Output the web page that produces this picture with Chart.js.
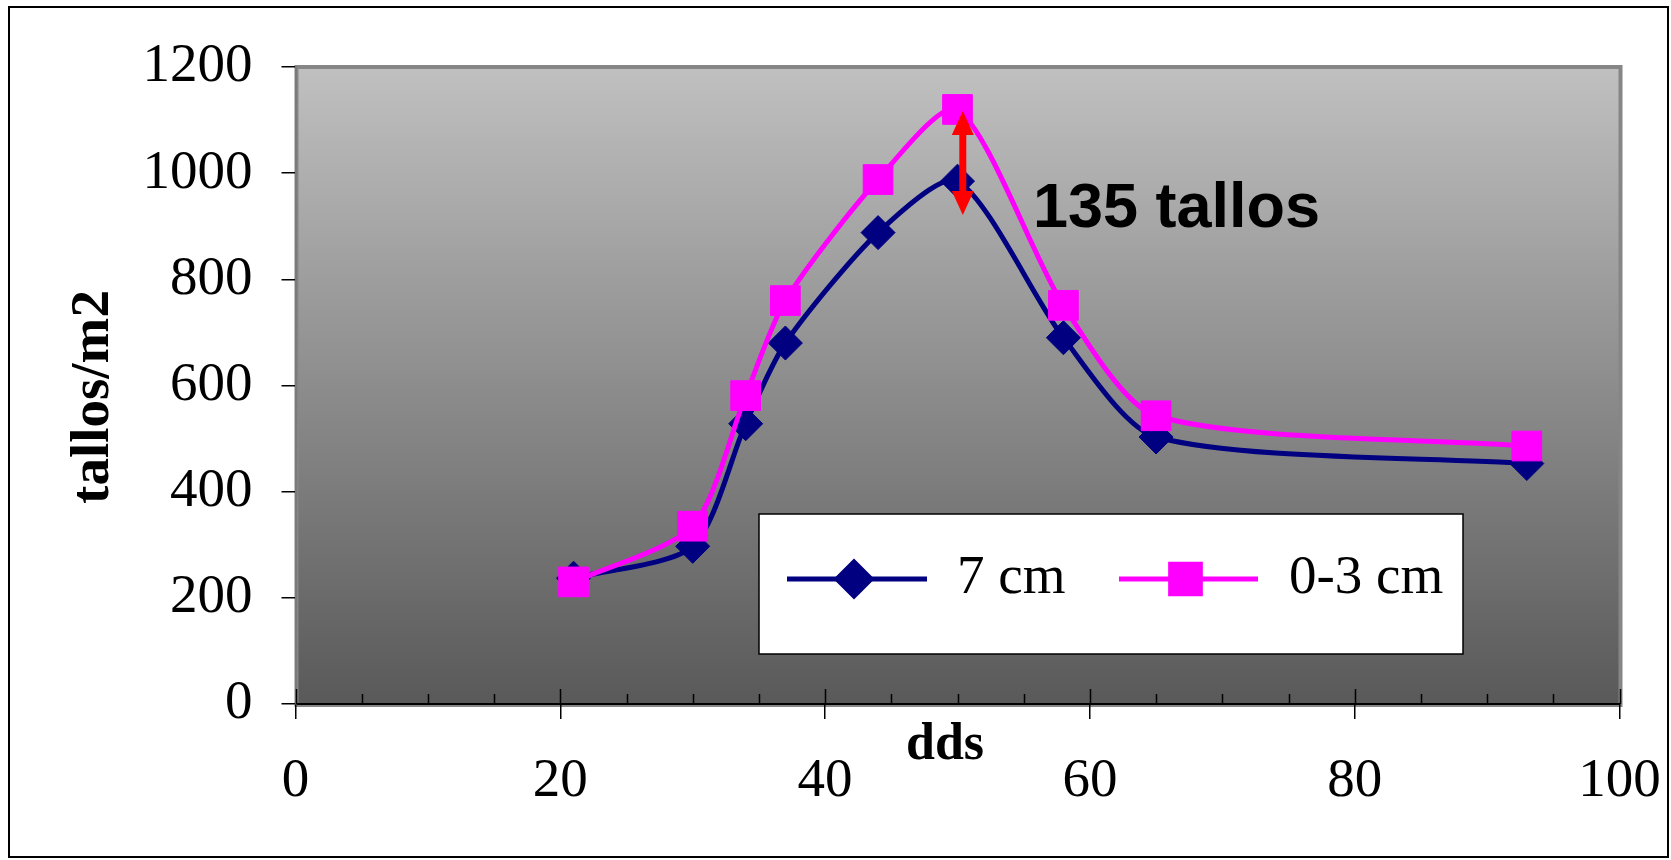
<!DOCTYPE html>
<html>
<head>
<meta charset="utf-8">
<script src="https://cdn.jsdelivr.net/npm/chart.js@4.4.0/dist/chart.umd.min.js"></script>
<style>
    html, body { margin: 0; padding: 0; background: #fff; }
    #wrap { width: 1671px; height: 860px; position: relative; }
</style>
</head>
<body>
<div id="wrap"><canvas id="tallosChart"></canvas></div>
<script>
        // Datos
        const dds = [21, 30, 34, 37, 44, 50, 58, 65, 93];
        const tallos7cm = [237, 297, 528, 680, 888, 985, 690, 503, 453];
        const tallos03cm = [230, 335, 581, 760, 988, 1120, 751, 543, 486];
        const seriesLabels = ['7 cm', '0-3 cm'];
        const xTicks = [0, 20, 40, 60, 80, 100];
        const yTicks = [0, 200, 400, 600, 800, 1000, 1200];

        // Flecha de diferencia en el pico
        const arrowX = 50.4;
        const arrowTop = 1117;
        const arrowBottom = 921;
        const noteText = '135 tallos';

        const serif = "'Liberation Serif', 'Times New Roman', serif";
        const sans = "'Liberation Sans', Arial, sans-serif";

        const toPoints = (ys) => dds.map((x, i) => ({ x: x, y: ys[i] }));

        // Fondo del area de grafico
        const backgroundPlugin = {
            id: 'background',
            beforeDraw(chart) {
                const { ctx, chartArea: a } = chart;
                ctx.save();
                ctx.fillStyle = '#fff';
                ctx.fillRect(0, 0, chart.width, chart.height);
                const g = ctx.createLinearGradient(0, a.top, 0, a.bottom);
                g.addColorStop(0, '#c0c0c0');
                g.addColorStop(1, '#595959');
                ctx.fillStyle = g;
                ctx.fillRect(a.left, a.top, a.right - a.left, a.bottom - a.top);
                ctx.strokeStyle = '#868686';
                ctx.lineWidth = 4;
                ctx.strokeRect(a.left + 1, a.top, a.right - a.left, a.bottom - a.top + 1);
                ctx.restore();
            }
        };

        // Marcas, flecha, texto, leyenda y titulos
        const overlayPlugin = {
            id: 'overlay',
            afterDraw(chart) {
                const { ctx, chartArea: a } = chart;
                const xs = chart.scales.x;
                const ys = chart.scales.y;
                ctx.save();

                // marcas del eje x (interiores)
                ctx.strokeStyle = '#000';
                ctx.lineWidth = 1.5;
                for (let v = 0; v <= 100; v += 5) {
                    const px = Math.round(xs.getPixelForValue(v)) + 0.5;
                    const len = v % 20 === 0 ? 15 : 10;
                    ctx.beginPath();
                    ctx.moveTo(px, a.bottom);
                    ctx.lineTo(px, a.bottom - len);
                    ctx.stroke();
                }

                // flecha roja
                const ax = xs.getPixelForValue(arrowX);
                const y1 = ys.getPixelForValue(arrowTop);
                const y2 = ys.getPixelForValue(arrowBottom);
                ctx.strokeStyle = '#ff0000';
                ctx.fillStyle = '#ff0000';
                ctx.lineWidth = 7;
                ctx.beginPath();
                ctx.moveTo(ax, y1 + 18);
                ctx.lineTo(ax, y2 - 18);
                ctx.stroke();
                ctx.beginPath();
                ctx.moveTo(ax, y1);
                ctx.lineTo(ax - 11, y1 + 24);
                ctx.lineTo(ax + 11, y1 + 24);
                ctx.closePath();
                ctx.fill();
                ctx.beginPath();
                ctx.moveTo(ax, y2);
                ctx.lineTo(ax - 11, y2 - 24);
                ctx.lineTo(ax + 11, y2 - 24);
                ctx.closePath();
                ctx.fill();

                // texto
                ctx.fillStyle = '#000';
                ctx.font = 'bold 63px ' + sans;
                ctx.textAlign = 'left';
                ctx.textBaseline = 'alphabetic';
                ctx.fillText(noteText, xs.getPixelForValue(55.7), ys.getPixelForValue(899));

                // leyenda
                ctx.fillStyle = '#fff';
                ctx.fillRect(759, 514, 704, 140);
                ctx.strokeStyle = '#000';
                ctx.lineWidth = 1.5;
                ctx.strokeRect(759, 514, 704, 140);
                const items = [
                    { x0: 787, x1: 927, tx: 957 },
                    { x0: 1119, x1: 1258, tx: 1289 }
                ];
                chart.data.datasets.forEach((ds, i) => {
                    const it = items[i];
                    const ly = 579;
                    ctx.strokeStyle = ds.borderColor;
                    ctx.lineWidth = ds.borderWidth;
                    ctx.beginPath();
                    ctx.moveTo(it.x0, ly);
                    ctx.lineTo(it.x1, ly);
                    ctx.stroke();
                    ctx.fillStyle = ds.pointBackgroundColor;
                    ctx.strokeStyle = ds.pointBorderColor;
                    Chart.helpers.drawPoint(ctx, {
                        pointStyle: ds.pointStyle,
                        radius: ds.pointRadius,
                        rotation: 0,
                        borderWidth: 1
                    }, (it.x0 + it.x1) / 2 - 3, ly);
                    ctx.fillStyle = '#000';
                    ctx.font = '55px ' + serif;
                    ctx.fillText(ds.label, it.tx, 593);
                });

                // titulos de ejes
                ctx.fillStyle = '#000';
                ctx.font = 'bold 52px ' + serif;
                ctx.textAlign = 'center';
                ctx.textBaseline = 'alphabetic';
                ctx.fillText('dds', 945, 759);
                ctx.save();
                ctx.translate(108, 397);
                ctx.rotate(-Math.PI / 2);
                ctx.font = 'bold 55px ' + serif;
                ctx.fillText('tallos/m2', 0, 0);
                ctx.restore();

                // borde exterior
                ctx.strokeStyle = '#000';
                ctx.lineWidth = 2;
                ctx.strokeRect(9, 7, 1659, 850);
                ctx.restore();
            }
        };

        const tallosChart = new Chart(
            document.getElementById('tallosChart'),
            {
                type: 'line',
                data: {
                    datasets: [
                        {
                            label: seriesLabels[0],
                            data: toPoints(tallos7cm),
                            borderColor: '#000080',
                            backgroundColor: '#000080',
                            pointBackgroundColor: '#000080',
                            pointBorderColor: '#000080',
                            pointStyle: 'rectRot',
                            pointRadius: 17,
                            pointBorderWidth: 1,
                            borderWidth: 5,
                            tension: 0.25,
                            order: 1
                        },
                        {
                            label: seriesLabels[1],
                            data: toPoints(tallos03cm),
                            borderColor: '#ff00ff',
                            backgroundColor: '#ff00ff',
                            pointBackgroundColor: '#ff00ff',
                            pointBorderColor: '#ff00ff',
                            pointStyle: 'rect',
                            pointRadius: 21,
                            pointBorderWidth: 1,
                            borderWidth: 5,
                            tension: 0.25,
                            order: 0
                        }
                    ]
                },
                options: {
                    responsive: true,
                    maintainAspectRatio: false,
                    animation: false,
                    layout: {
                        padding: { left: 0, top: 67, right: 51.5, bottom: 0 }
                    },
                    plugins: {
                        legend: { display: false },
                        tooltip: { enabled: false }
                    },
                    scales: {
                        x: {
                            type: 'linear',
                            min: 0,
                            max: 100,
                            afterFit: (s) => { s.height = 156; s.paddingLeft = 0; s.paddingRight = 0; },
                            afterBuildTicks: (s) => { s.ticks = xTicks.map(v => ({ value: v })); },
                            ticks: {
                                color: '#000',
                                padding: 30,
                                font: { family: serif, size: 55 },
                                maxRotation: 0,
                                callback: (v) => String(v)
                            },
                            grid: {
                                drawOnChartArea: false,
                                tickLength: 15,
                                color: '#000',
                                lineWidth: 1.5
                            },
                            border: { display: true, color: '#000', width: 2 }
                        },
                        y: {
                            min: 0,
                            max: 1200,
                            afterFit: (s) => { s.width = 295.5; s.paddingTop = 0; s.paddingBottom = 0; },
                            afterBuildTicks: (s) => { s.ticks = yTicks.map(v => ({ value: v })); },
                            ticks: {
                                color: '#000',
                                padding: 29,
                                font: { family: serif, size: 55 },
                                callback: (v) => String(v)
                            },
                            grid: {
                                drawOnChartArea: false,
                                tickLength: 14,
                                color: '#000',
                                lineWidth: 1.5
                            },
                            border: { display: true, color: '#7a7a7a', width: 2 }
                        }
                    }
                },
                plugins: [backgroundPlugin, overlayPlugin]
            }
        );
</script>
</body>
</html>
